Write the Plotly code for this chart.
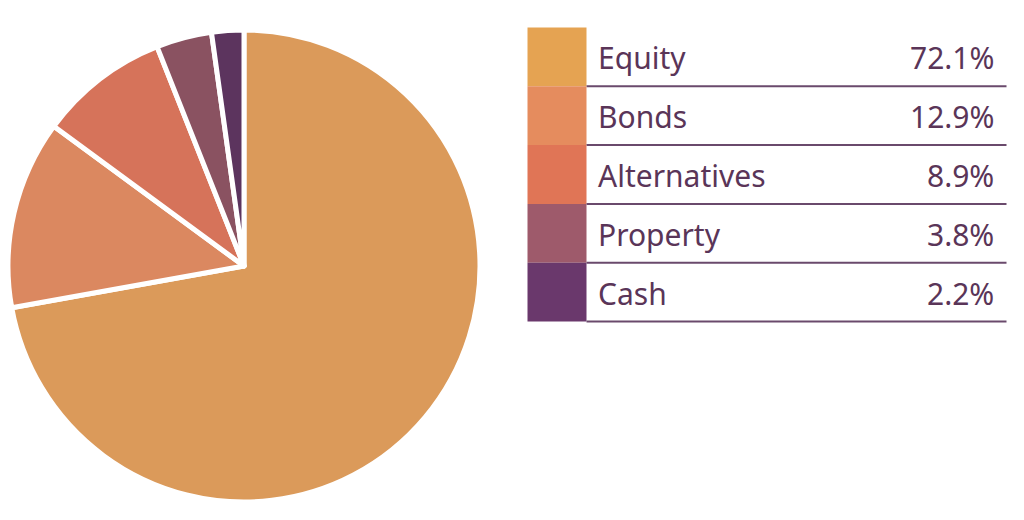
import plotly.graph_objects as go

# Data
categories = ["Equity", "Bonds", "Alternatives", "Property", "Cash"]
values = [72.1, 12.9, 8.9, 3.8, 2.2]
value_labels = ["72.1%", "12.9%", "8.9%", "3.8%", "2.2%"]

# Styles
slice_colors = ["#DB9A5A", "#DB8860", "#D6735A", "#8A5261", "#5C345E"]
swatch_colors = ["#E5A352", "#E58C5E", "#E07556", "#9E5A6B", "#6A386C"]
text_color = "#5A3558"
line_color = "#6A4A6C"

# page body has an 8px margin; size the figure so it fits the 1024x520 window
OFF = 8
W, H = 1024 - 2 * OFF, 520 - 2 * OFF

def px(x):
    return (x - OFF) / W

def py(y):
    return 1 - (y - OFF) / H

fig = go.Figure()
fig.add_trace(go.Pie(
    labels=categories,
    values=values,
    sort=False,
    direction="clockwise",
    rotation=0,
    textinfo="none",
    marker=dict(colors=slice_colors, line=dict(color="white", width=5)),
    domain=dict(x=[px(8), px(480)], y=[py(502), py(30)]),
    showlegend=False,
))

# Legend table
top = 27.5
row_h = 58.8
sw_x0, sw_x1 = 527.5, 586.5
line_x1 = 1006.5
font = dict(size=30, color=text_color, family="Noto Sans")
shapes = []
annotations = []
for i, (cat, lab) in enumerate(zip(categories, value_labels)):
    y0 = top + i * row_h
    y1 = y0 + row_h
    shapes.append(dict(type="rect", xref="paper", yref="paper",
                       x0=px(sw_x0), x1=px(sw_x1), y0=py(y1), y1=py(y0),
                       fillcolor=swatch_colors[i], line=dict(width=0), layer="above"))
    shapes.append(dict(type="line", xref="paper", yref="paper",
                       x0=px(sw_x1), x1=px(line_x1), y0=py(y1), y1=py(y1),
                       line=dict(color=line_color, width=2)))
    yc = (y0 + y1) / 2 + 1
    annotations.append(dict(xref="paper", yref="paper", x=px(596), y=py(yc),
                            text=cat, showarrow=False, xanchor="left", yanchor="middle",
                            font=font))
    annotations.append(dict(xref="paper", yref="paper", x=px(996), y=py(yc),
                            text=lab, showarrow=False, xanchor="right", yanchor="middle",
                            font=font))

fig.update_layout(
    width=W, height=H,
    margin=dict(l=0, r=0, t=0, b=0),
    paper_bgcolor="white", plot_bgcolor="white",
    shapes=shapes, annotations=annotations,
)

fig.write_html("out.html")
